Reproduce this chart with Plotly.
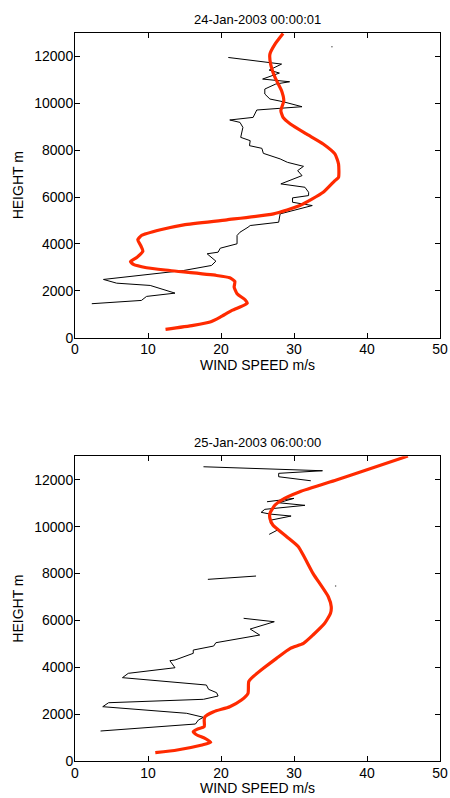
import plotly.graph_objects as go
from plotly.subplots import make_subplots

# ---- Top panel: 24-Jan-2003 00:00:01 ----
obs1_speed = [21.0, 26.8, 28.3, 26.6, 28.0, 25.7, 29.4, 27.5, 26.0, 26.0, 26.7, 28.5, 31.1, 24.9, 24.4,
              21.2, 22.6, 23.0, 22.7, 24.0, 23.9, 25.6, 25.8, 28.1, 29.1, 31.3, 30.5, 31.1, 28.2, 31.5,
              32.0, 32.0, 29.8, 29.8, 32.5, 28.1, 27.9, 24.0, 23.7, 22.6, 22.2, 22.2, 19.9, 19.6, 18.1,
              19.3, 18.7, 14.9, 3.9, 5.7, 10.3, 13.7, 9.8, 9.1, 2.3]
obs1_height = [11956, 11743, 11674, 11418, 11291, 11035, 10920, 10822, 10609, 10396, 10183, 10068, 9855, 9714, 9399,
               9288, 9186, 8973, 8547, 8406, 8193, 8079, 7865, 7627, 7482, 7311, 7128, 6915, 6561, 6418,
               6204, 6063, 5965, 5778, 5637, 5283, 4926, 4785, 4712, 4499, 4359, 4005, 3818, 3647, 3579,
               3264, 3081, 2867, 2484, 2326, 2228, 1900, 1760, 1589, 1449]

mod1_speed = [12.4, 16.2, 18.5, 19.9, 21.5, 22.8, 23.6, 23.3, 22.2, 21.8, 21.9, 21.2, 19.4, 13.0, 9.8,
              8.0, 7.6, 8.5, 9.3, 9.0, 8.6, 9.1, 11.7, 14.9, 20.8, 27.2, 30.8, 34.0, 35.6, 36.1,
              36.1, 35.6, 34.0, 31.7, 29.5, 28.5, 28.2, 28.6, 28.3, 27.4, 26.8, 26.7, 27.4, 28.5]
mod1_height = [354, 524, 665, 878, 1163, 1334, 1474, 1619, 1875, 2156, 2399, 2556, 2654, 2867, 2982,
               3123, 3251, 3434, 3690, 3933, 4176, 4359, 4602, 4815, 5028, 5283, 5637, 6204, 6702, 6843,
               7414, 7840, 8266, 8692, 9118, 9399, 9685, 10111, 10537, 11103, 11674, 12100, 12527, 12978]

dot1_speed = [35.2]
dot1_height = [12411]

# ---- Bottom panel: 25-Jan-2003 06:00:00 (None = gap in sounding) ----
obs2_speed = [17.6, 33.9, 27.9, 27.9, 32.3, None,
              26.3, 30.0, 27.9, 31.5, 26.0, 25.5, 26.7, 29.6, 26.9, None,
              26.7, 27.9, 26.6, None,
              18.2, 24.8, None,
              23.1, 27.3, 24.0, 25.3, 19.3, 19.0, 16.2, 16.2, 13.7, 13.0, 13.7, 7.3, 6.5, 18.0,
              18.3, 19.4, 19.6, 17.6, 4.6, 3.8, 15.3, 17.6, 16.9, 16.5, 3.5]
obs2_height = [12555, 12385, 12274, 12129, 11958, None,
               11062, 11207, 11019, 10909, 10738, 10610, 10537, 10452, 10282, None,
               10170, 9880, 9670, None,
               7751, 7892, None,
               6088, 5943, 5631, 5375, 5048, 4906, 4735, 4594, 4309, 4279, 3980, 3741, 3556, 3242,
               3059, 2914, 2773, 2632, 2487, 2317, 2035, 1864, 1749, 1578, 1280]

mod2_speed = [11.0, 14.0, 17.4, 18.6, 17.8, 16.7, 16.2, 16.7, 17.7, 17.7, 17.8, 19.0, 21.2, 22.8, 23.7,
              23.8, 24.4, 25.8, 27.6, 29.5, 31.3, 32.6, 34.2, 35.0, 35.1, 34.7, 32.6, 30.6, 29.0, 27.1,
              26.7, 26.7, 27.4, 28.3, 30.8, 35.8, 39.9, 45.6]
mod2_height = [356, 469, 683, 796, 967, 1109, 1251, 1351, 1465, 1749, 1891, 2105, 2318, 2602, 2887,
               3385, 3597, 3953, 4380, 4806, 5020, 5375, 5875, 6301, 6584, 7010, 8008, 9142, 9569, 10068,
               10354, 10567, 10922, 11135, 11489, 11988, 12415, 13012]

dot2_speed = [35.7]
dot2_height = [7466]

titles = ["24-Jan-2003 00:00:01", "25-Jan-2003 06:00:00"]
x_title = "WIND SPEED m/s"
y_title = "HEIGHT m"
x_ticks = [0, 10, 20, 30, 40, 50]
y_ticks = [0, 2000, 4000, 6000, 8000, 10000, 12000]

RED = "#FF2A00"
FONT = "Liberation Sans, Arial, Helvetica, sans-serif"

fig = make_subplots(rows=2, cols=1, vertical_spacing=0.163)

panels = [
    (obs1_speed, obs1_height, mod1_speed, mod1_height, dot1_speed, dot1_height),
    (obs2_speed, obs2_height, mod2_speed, mod2_height, dot2_speed, dot2_height),
]
for i, (os_, oh, ms, mh, ds, dh) in enumerate(panels, start=1):
    fig.add_trace(go.Scatter(x=os_, y=oh, mode="lines", line=dict(color="black", width=1),
                             connectgaps=False, showlegend=False, hoverinfo="skip"), row=i, col=1)
    fig.add_trace(go.Scatter(x=ms, y=mh, mode="lines", line=dict(color=RED, width=3.2, shape="spline", smoothing=0.5),
                             showlegend=False, hoverinfo="skip"), row=i, col=1)
    fig.add_trace(go.Scatter(x=ds, y=dh, mode="markers", marker=dict(color="#555555", size=1.5),
                             showlegend=False, hoverinfo="skip"), row=i, col=1)
    fig.update_xaxes(range=[0, 50], tickvals=x_ticks, ticktext=[str(v) for v in x_ticks],
                     ticks="inside", ticklen=5, tickcolor="black", ticklabelstandoff=-1,
                     showline=True, linecolor="black", linewidth=1, mirror="ticks", showgrid=False,
                     zeroline=False, automargin=False,
                     tickfont=dict(size=14, color="black"), row=i, col=1)
    fig.update_yaxes(range=[0, 13000], tickvals=y_ticks, ticktext=[str(v) for v in y_ticks],
                     ticks="inside", ticklen=5, tickcolor="black", ticklabelstandoff=-2,
                     showline=True, linecolor="black", linewidth=1, mirror="ticks", showgrid=False,
                     zeroline=False, automargin=False,
                     tickfont=dict(size=14, color="black"), row=i, col=1)

annotations = []
for i in (1, 2):
    xs = "x" if i == 1 else "x2"
    ys = "y" if i == 1 else "y2"
    annotations.append(dict(text=titles[i - 1], x=0.5, xref=xs + " domain", y=1.0, yref=ys + " domain",
                            yanchor="bottom", yshift=4, showarrow=False, font=dict(size=13, color="black")))
    annotations.append(dict(text=x_title, x=0.5, xref=xs + " domain", y=0, yref=ys + " domain",
                            yanchor="middle", yshift=-27, showarrow=False, borderpad=0,
                            font=dict(size=14, color="black")))
    annotations.append(dict(text=y_title, x=0, xref=xs + " domain", y=0.5, yref=ys + " domain",
                            xanchor="right", xshift=-47, textangle=-90, showarrow=False,
                            font=dict(size=14, color="black")))

fig.update_layout(
    width=450, height=798,
    margin=dict(l=75, r=10, t=33, b=37),
    plot_bgcolor="white", paper_bgcolor="white",
    font=dict(family=FONT, color="black", size=14),
    annotations=annotations,
)

fig.write_html("out.html")
